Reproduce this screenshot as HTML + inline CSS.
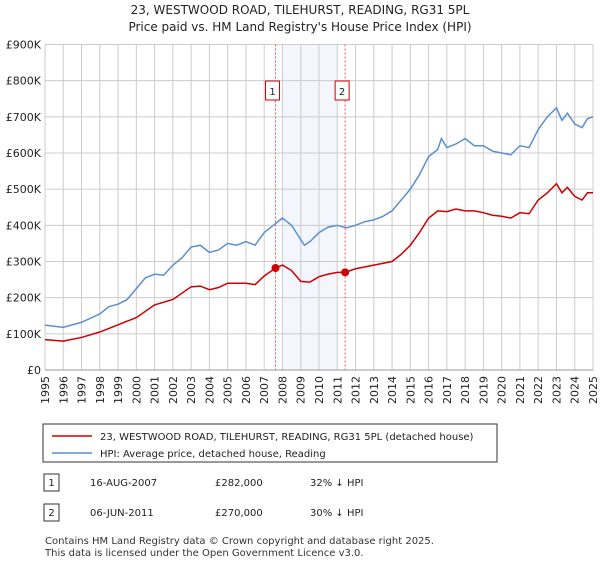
<!DOCTYPE html>
<html><head><meta charset="utf-8"><style>
body{margin:0;background:#fff;font-family:"DejaVu Sans",sans-serif;}
svg text{font-family:"DejaVu Sans","Liberation Sans",sans-serif;}
</style></head><body>
<svg width="600" height="560" viewBox="0 0 600 560">
<text x="300" y="14" text-anchor="middle" font-size="12" fill="#222">23, WESTWOOD ROAD, TILEHURST, READING, RG31 5PL</text>
<text x="300" y="31" text-anchor="middle" font-size="12" fill="#222">Price paid vs. HM Land Registry's House Price Index (HPI)</text>
<g id="plot"></g>
<g>
<rect x="43" y="424" width="454" height="38" fill="#fff" stroke="#333" stroke-width="1"/>
<line x1="52" y1="436" x2="92" y2="436" stroke="#cc0000" stroke-width="1.5"/>
<text x="100" y="440" font-size="10" fill="#222">23, WESTWOOD ROAD, TILEHURST, READING, RG31 5PL (detached house)</text>
<line x1="52" y1="453" x2="92" y2="453" stroke="#5b8fd0" stroke-width="1.5"/>
<text x="100" y="457" font-size="10" fill="#222">HPI: Average price, detached house, Reading</text>
</g>
<g font-size="10" fill="#222">
<rect x="44" y="474" width="15" height="17" fill="#fff" stroke="#333"/><text x="51.5" y="486" text-anchor="middle">1</text>
<text x="90" y="486">16-AUG-2007</text><text x="215" y="486">£282,000</text><text x="310" y="486">32% ↓ HPI</text>
<rect x="44" y="504" width="15" height="17" fill="#fff" stroke="#333"/><text x="51.5" y="516" text-anchor="middle">2</text>
<text x="90" y="516">06-JUN-2011</text><text x="215" y="516">£270,000</text><text x="310" y="516">30% ↓ HPI</text>
</g>
<text x="45" y="544" font-size="10" fill="#333">Contains HM Land Registry data © Crown copyright and database right 2025.</text>
<text x="45" y="556" font-size="10" fill="#333">This data is licensed under the Open Government Licence v3.0.</text>
</svg>
<script>
const years=[1995,1996,1997,1998,1999,2000,2001,2002,2003,2004,2005,2006,2007,2008,2009,2010,2011,2012,2013,2014,2015,2016,2017,2018,2019,2020,2021,2022,2023,2024,2025];
const yTicks=[0,100000,200000,300000,400000,500000,600000,700000,800000,900000];
const yTickLabels=["£0","£100K","£200K","£300K","£400K","£500K","£600K","£700K","£800K","£900K"];
const hpiT=[1995,1996,1997,1998,1998.5,1999,1999.5,2000,2000.5,2001,2001.5,2002,2002.5,2003,2003.5,2004,2004.5,2005,2005.5,2006,2006.5,2007,2007.5,2008,2008.5,2009.2,2009.5,2010,2010.5,2011,2011.5,2012,2012.5,2013,2013.5,2014,2014.5,2015,2015.5,2016,2016.5,2016.7,2017,2017.5,2018,2018.5,2019,2019.5,2020,2020.5,2021,2021.5,2022,2022.5,2023,2023.3,2023.6,2024,2024.4,2024.7,2025];
const hpiV=[124,118,132,155,175,182,195,225,255,265,262,290,310,340,345,325,332,350,345,355,345,380,400,420,400,345,355,380,395,400,393,400,410,415,425,440,470,500,540,590,610,640,615,625,640,620,620,605,600,595,620,615,665,700,725,690,710,680,670,695,700];
const priceT=[1995,1996,1997,1998,1999,2000,2001,2002,2003,2003.5,2004,2004.5,2005,2006,2006.5,2007,2007.62,2008,2008.5,2009,2009.5,2010,2010.5,2011,2011.43,2012,2013,2014,2014.5,2015,2015.5,2016,2016.5,2017,2017.5,2018,2018.5,2019,2019.5,2020,2020.5,2021,2021.5,2022,2022.5,2023,2023.3,2023.6,2024,2024.4,2024.7,2025];
const priceV=[84,80,90,105,125,145,180,195,230,232,222,228,240,240,236,260,282,290,275,245,243,258,265,270,270,280,290,300,320,345,380,420,440,438,445,440,440,435,428,425,420,435,432,470,490,515,490,505,480,470,490,490];
const saleT=[2007.62,2011.43];
const saleV=[282,270];
const saleLabels=["1","2"];
const X0=45,X1=593,Y0=370,Y1=44.5;
const xs=t=>X0+(t-1995)/30*(X1-X0);
const ys=v=>Y0-v/900000*(Y0-Y1);
const NS="http://www.w3.org/2000/svg";
const g=document.getElementById('plot');
function mk(tag,attrs,parent){const e=document.createElementNS(NS,tag);for(const k in attrs)e.setAttribute(k,attrs[k]);(parent||g).appendChild(e);return e;}
let e=mk('rect',{x:xs(2008),y:Y1,width:xs(2011)-xs(2008),height:Y0-Y1,fill:'#f3f6fd'});


years.forEach(y=>{const l=mk('line',{x1:xs(y),x2:xs(y),y1:Y1,y2:Y0,stroke:'#cccccc','stroke-width':1});


const t=mk('text',{x:0,y:0,'font-size':11,fill:'#222','text-anchor':'end',transform:`translate(${xs(y)+4},${Y0+6}) rotate(-90)`});
t.textContent=y;

});
yTicks.forEach((v,i)=>{const l=mk('line',{x1:X0,x2:X1,y1:ys(v),y2:ys(v),stroke:'#cccccc','stroke-width':1});


const t=mk('text',{x:X0-4,y:ys(v)+4,'font-size':11,fill:'#222','text-anchor':'end'});
t.textContent=yTickLabels[i];

});
saleT.forEach((t,i)=>{const l=mk('line',{x1:xs(t),x2:xs(t),y1:Y1,y2:Y0,stroke:'#e06060','stroke-width':1,'stroke-dasharray':'2,2'});


const r=mk('rect',{x:xs(t)-10,y:81,width:14,height:19,fill:'#fff',stroke:'#cc0000'});


const tx=mk('text',{x:xs(t)-3,y:95,'font-size':10,fill:'#222','text-anchor':'middle'});
tx.textContent=saleLabels[i];

});
const hp=mk('polyline',{points:hpiT.map((t,i)=>xs(t)+','+ys(hpiV[i]*1000)).join(' '),fill:'none',stroke:'#5b8fd0','stroke-width':1.5});


const pp=mk('polyline',{points:priceT.map((t,i)=>xs(t)+','+ys(priceV[i]*1000)).join(' '),fill:'none',stroke:'#cc0000','stroke-width':1.5});


saleT.forEach((t,i)=>{const c=mk('circle',{cx:xs(t),cy:ys(saleV[i]*1000),r:4,fill:'#cc0000'});

});
const b=mk('line',{x1:X0,x2:X1,y1:Y0,y2:Y0,stroke:'#999','stroke-width':1});


</script>
</body></html>
